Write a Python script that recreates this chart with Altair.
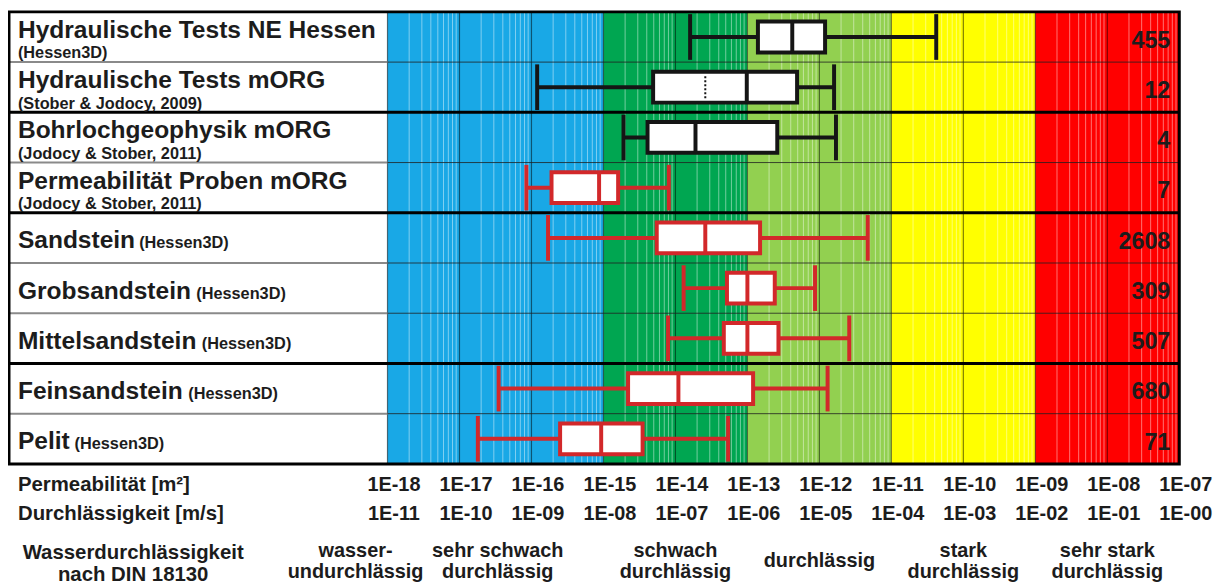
import altair as alt
import pandas as pd

# ---------------- data ----------------
rows = ["Hydraulische Tests NE Hessen", "Hydraulische Tests mORG", "Bohrlochgeophysik mORG",
        "Permeabilität Proben mORG", "Sandstein", "Grobsandstein", "Mittelsandstein",
        "Feinsandstein", "Pelit"]
sources = ["(Hessen3D)", "(Stober & Jodocy, 2009)", "(Jodocy & Stober, 2011)",
           "(Jodocy & Stober, 2011)", "(Hessen3D)", "(Hessen3D)", "(Hessen3D)",
           "(Hessen3D)", "(Hessen3D)"]
groups = [1, 1, 2, 2, 3, 3, 3, 4, 4]
kinds = ["Feld", "Feld", "Feld", "Probe", "Probe", "Probe", "Probe", "Probe", "Probe"]
counts = [455, 12, 4, 7, 2608, 309, 507, 680, 71]

# permeability in m²
whisker_low = [1.6e-14, 1.2e-16, 1.9e-15, 8.5e-17, 1.7e-16, 1.3e-14, 7.9e-15, 3.5e-17, 1.8e-17]
quart_1 = [1.4e-13, 4.9e-15, 4.1e-15, 1.9e-16, 5.5e-15, 5.2e-14, 4.7e-14, 2.2e-15, 2.5e-16]
medians = [4.2e-13, 9.8e-14, 1.9e-14, 8.7e-16, 2.6e-14, 1.0e-13, 1.0e-13, 1.1e-14, 9.3e-16]
quart_3 = [1.2e-12, 4.9e-13, 2.6e-13, 1.6e-15, 1.5e-13, 2.4e-13, 2.7e-13, 1.2e-13, 3.5e-15]
whisker_high = [4.2e-11, 1.6e-12, 1.7e-12, 8.1e-15, 4.7e-12, 8.7e-13, 2.6e-12, 1.3e-12, 5.4e-14]
means = [None, 2.6e-14, None, None, None, None, None, None, None]

decades = [1e-18, 1e-17, 1e-16, 1e-15, 1e-14, 1e-13, 1e-12, 1e-11, 1e-10, 1e-9, 1e-8, 1e-7]
minor_steps = [2, 3, 4, 5, 6, 7, 8, 9]

band_names = ["wasserundurchlässig / sehr schwach", "schwach", "durchlässig", "stark", "sehr stark"]
band_low = [1e-18, 1e-15, 1e-13, 1e-11, 1e-9]
band_high = [1e-15, 1e-13, 1e-11, 1e-9, 1e-7]

din_labels = ["wasser-\nundurchlässig", "sehr schwach\ndurchlässig", "schwach\ndurchlässig",
              "durchlässig", "stark\ndurchlässig", "sehr stark\ndurchlässig"]
din_centres = [3.6e-19, 3.4e-17, 1e-14, 1e-12, 1e-10, 1e-8]

# ---------------- layout / style ----------------
FONT = "Liberation Sans"
TXT = "#1c1c1c"
W, H = 797, 455
LEFT = 382
LABEL_X = -372
two_line = [True, True, True, True, False, False, False, False, False]
inline_sub_x = [None, None, None, None, -250, -192.5, -187, -200.5, -315]
band_colors = ["#19A8E6", "#00A651", "#92D050", "#FFFF00", "#FF0000"]
kind_colors = ["#151515", "#D2282A"]

df = pd.DataFrame({
    "row": rows, "source": sources, "group": groups, "kind": kinds, "n": counts,
    "lo": whisker_low, "q1": quart_1, "med": medians, "q3": quart_3, "hi": whisker_high,
    "mean": means, "two": two_line, "sub_x": inline_sub_x,
})
df["n"] = df["n"].astype(str)
sep = df.iloc[1:].copy()
sep["thick"] = [g != pg for g, pg in zip(groups[1:], groups[:-1])]

bands = pd.DataFrame({"name": band_names, "lo": band_low, "hi": band_high})
decade_df = pd.DataFrame({"v": decades})
minor_df = pd.DataFrame({"v": [d * k for d in decades[:-1] for k in minor_steps]})
din_df = pd.DataFrame({"t": din_labels, "x": din_centres})
din_df["multi"] = din_df["t"].str.contains("\n")

xscale = alt.Scale(type="log", domain=[1e-18, 1e-7], nice=False)
yscale = alt.Scale(domain=rows, paddingInner=0, paddingOuter=0)
Y = alt.Y("row:N", scale=yscale, axis=None)
color_kind = alt.Color("kind:N", scale=alt.Scale(domain=["Feld", "Probe"], range=kind_colors), legend=None)

label_font = dict(labelFont=FONT, labelFontSize=20, labelFontWeight="bold", labelColor=TXT)
axis_k = alt.Axis(values=decades, orient="bottom",
                  labelExpr="'1E-' + format(-log(datum.value)/LN10, '02d')",
                  grid=False, ticks=False, tickSize=0, domain=False, labelPadding=27,
                  labelBaseline="alphabetic", labelOffset=6, labelOverlap=False, labelFlush=False,
                  title=None, **label_font)
axis_kf = alt.Axis(values=decades, orient="bottom",
                   labelExpr="'1E-' + format(-log(datum.value)/LN10 - 7, '02d')",
                   grid=False, ticks=False, tickSize=0, domain=False, labelPadding=56,
                   labelBaseline="alphabetic", labelOffset=6, labelOverlap=False, labelFlush=False,
                   title=None, **label_font)

bg = alt.Chart(bands).mark_rect().encode(
    x=alt.X("lo:Q", scale=xscale, axis=axis_k), x2="hi:Q",
    y=alt.value(0), y2=alt.value(H),
    color=alt.Color("name:N", scale=alt.Scale(domain=band_names, range=band_colors), legend=None),
)
minor = alt.Chart(minor_df).mark_rule(color="white", opacity=0.45, strokeWidth=1).encode(
    x=alt.X("v:Q", scale=xscale, axis=None), y=alt.value(0), y2=alt.value(H))
major = alt.Chart(decade_df).mark_rule(color="black", opacity=0.5, strokeWidth=1.2).encode(
    x=alt.X("v:Q", scale=xscale, axis=axis_kf), y=alt.value(0), y2=alt.value(H))

sep_y = alt.Y("row:N", scale=yscale, axis=None, bandPosition=0)
sep_label = alt.Chart(sep).transform_filter("!datum.thick").mark_rule(color="#8a8a8a", strokeWidth=2).encode(
    x=alt.value(-381), x2=alt.value(0), y=sep_y)
sep_plot = alt.Chart(sep).transform_filter("!datum.thick").mark_rule(color="#202020", strokeWidth=1, opacity=0.8).encode(
    x=alt.value(0), x2=alt.value(W), y=sep_y)
sep_thick = alt.Chart(sep).transform_filter("datum.thick").mark_rule(color="#000000", strokeWidth=3).encode(
    x=alt.value(-381), x2=alt.value(W), y=sep_y)

base = alt.Chart(df)
whisk = base.mark_bar(size=4).encode(
    x=alt.X("lo:Q", scale=xscale, axis=None), x2="hi:Q", y=Y, color=color_kind)
caps = base.transform_fold(["lo", "hi"], as_=["which", "val"]).mark_tick(size=46, thickness=4, opacity=1).encode(
    x=alt.X("val:Q", scale=xscale, axis=None), y=Y, color=color_kind)
box = base.mark_bar(size=31, fill="white", strokeWidth=4).encode(
    x=alt.X("q1:Q", scale=xscale, axis=None), x2="q3:Q", y=Y,
    stroke=alt.Stroke("kind:N", scale=alt.Scale(domain=["Feld", "Probe"], range=kind_colors), legend=None))
med = base.mark_tick(size=31, thickness=4, opacity=1).encode(
    x=alt.X("med:Q", scale=xscale, axis=None), y=Y, color=color_kind)
mean_pt = base.transform_filter("isValid(datum.mean)").mark_point(
    shape="M0,-1L0,1", size=484, strokeWidth=2, strokeDash=[2, 2], opacity=1, filled=False).encode(
    x=alt.X("mean:Q", scale=xscale, axis=None), y=Y, color=color_kind)

n_text = base.mark_text(align="right", baseline="alphabetic", dy=10.8, font=FONT, fontSize=23.5,
                        fontWeight="bold", color=TXT).encode(x=alt.value(W - 9), y=Y, text="n:N")

title2 = base.transform_filter("datum.two").mark_text(
    align="left", baseline="alphabetic", dy=1, font=FONT, fontSize=24.7, fontWeight="bold", color=TXT
).encode(x=alt.value(LABEL_X), y=Y, text="row:N")
sub2 = base.transform_filter("datum.two").mark_text(
    align="left", baseline="alphabetic", dy=21.5, font=FONT, fontSize=16.4, fontWeight="bold", color=TXT
).encode(x=alt.value(LABEL_X), y=Y, text="source:N")
title1 = base.transform_filter("!datum.two").mark_text(
    align="left", baseline="alphabetic", dy=10.5, font=FONT, fontSize=24.7, fontWeight="bold", color=TXT
).encode(x=alt.value(LABEL_X), y=Y, text="row:N")
sub1 = base.transform_filter("!datum.two").mark_text(
    align="left", baseline="alphabetic", dy=10.5, font=FONT, fontSize=16.4, fontWeight="bold", color=TXT
).encode(x=alt.X("sub_x:Q", scale=None), y=Y, text="source:N")

frame = alt.Chart(pd.DataFrame({"a": [0]})).mark_rect(fill=None, stroke="black", strokeWidth=3).encode(
    x=alt.value(-381), x2=alt.value(W), y=alt.value(0), y2=alt.value(H))

one = pd.DataFrame({"a": [0]})
txt_style = dict(font=FONT, fontWeight="bold", color=TXT)
lab_k = alt.Chart(one).mark_text(align="left", baseline="alphabetic", fontSize=20.5, text="Permeabilität [m²]",
                                 **txt_style).encode(x=alt.value(LABEL_X), y=alt.value(482))
lab_kf = alt.Chart(one).mark_text(align="left", baseline="alphabetic", fontSize=20.5, text="Durchlässigkeit [m/s]",
                                  **txt_style).encode(x=alt.value(LABEL_X), y=alt.value(511))
lab_din = alt.Chart(one).mark_text(align="center", baseline="alphabetic", fontSize=20.5, lineHeight=21.5,
                                   lineBreak="\n", text="Wasserdurchlässigkeit\nnach DIN 18130",
                                   **txt_style).encode(x=alt.value(-256), y=alt.value(551))
din_multi = alt.Chart(din_df).transform_filter("datum.multi").mark_text(
    align="center", baseline="alphabetic", fontSize=20, lineHeight=20.5, lineBreak="\n", **txt_style
).encode(x=alt.X("x:Q", scale=xscale, axis=None), y=alt.value(549), text="t:N")
din_single = alt.Chart(din_df).transform_filter("!datum.multi").mark_text(
    align="center", baseline="alphabetic", fontSize=20, **txt_style
).encode(x=alt.X("x:Q", scale=xscale, axis=None), y=alt.value(559), text="t:N")

chart = alt.layer(
    bg, minor, major, sep_label, sep_plot, whisk, caps, box, med, mean_pt, n_text, sep_thick,
    title2, sub2, title1, sub1, frame, lab_k, lab_kf, lab_din, din_multi, din_single,
).resolve_axis(x="independent").resolve_scale(color="independent").properties(
    width=W, height=H,
    autosize=alt.AutoSizeParams(type="none"),
    padding={"left": LEFT, "top": 2, "right": 44, "bottom": 121},
).configure_view(stroke=None).configure(background="white")

chart.save("out.html", embed_options={"renderer": "svg", "actions": False})
